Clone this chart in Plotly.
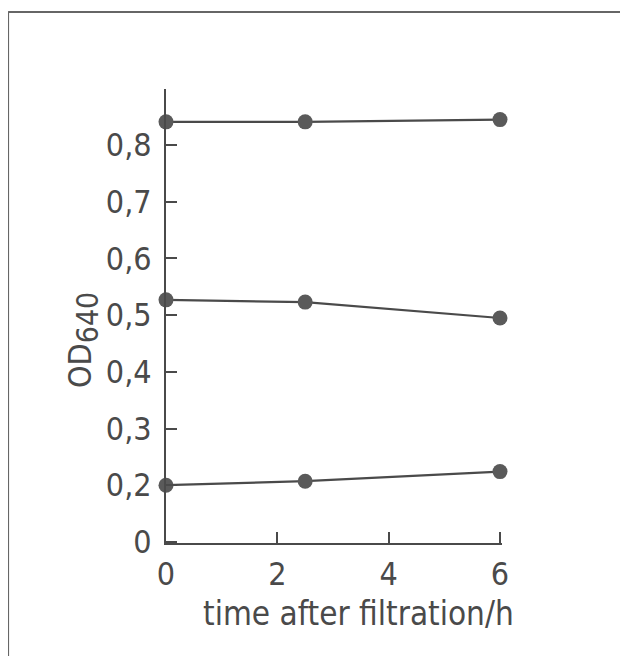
import plotly.graph_objects as go

time_h = [0, 2.5, 6]
od_high = [0.841, 0.841, 0.845]
od_mid = [0.527, 0.523, 0.495]
od_low = [0.200, 0.207, 0.224]

y_tickvals = [0.1, 0.2, 0.3, 0.4, 0.5, 0.6, 0.7, 0.8]
y_ticktext = ["0", "0,2", "0,3", "0,4", "0,5", "0,6", "0,7", "0,8"]
x_tickvals = [0, 2, 4, 6]
x_ticktext = ["0", "2", "4", "6"]

FONT = "DejaVu Sans Condensed, Liberation Sans Narrow, Arial Narrow, sans-serif"
INK = "#4a4a4a"

fig = go.Figure()
for ys in (od_high, od_mid, od_low):
    fig.add_trace(go.Scatter(
        x=time_h, y=ys, mode="lines+markers",
        line=dict(color=INK, width=2.2),
        marker=dict(color="#5a5a5a", size=15),
        cliponaxis=False, showlegend=False, hoverinfo="skip",
    ))

# page body has an 8px margin, so margins are offset by 8px
fig.update_layout(
    width=628, height=656,
    margin=dict(l=158, r=134, t=81, b=121),
    paper_bgcolor="white", plot_bgcolor="white",
    font=dict(family=FONT, color=INK, size=32),
    xaxis=dict(
        range=[0, 6.036], showgrid=False, zeroline=False,
        showline=True, linecolor=INK, linewidth=2,
        tickvals=x_tickvals, ticktext=x_ticktext,
        ticks="inside", ticklen=11, tickwidth=2, tickcolor=INK,
        ticklabelstandoff=2,
        tickfont=dict(family=FONT, size=32, color=INK),
    ),
    yaxis=dict(
        range=[0.098, 0.899], showgrid=False, zeroline=False,
        showline=True, linecolor=INK, linewidth=2,
        tickvals=y_tickvals, ticktext=y_ticktext,
        ticks="inside", ticklen=11, tickwidth=2, tickcolor=INK,
        ticklabelstandoff=6,
        tickfont=dict(family=FONT, size=32, color=INK),
    ),
    annotations=[
        dict(text="time after filtration/h", xref="paper", yref="paper",
             x=0.574, y=-0.156, xanchor="center", yanchor="middle",
             showarrow=False, font=dict(family=FONT, size=33, color=INK)),
        dict(text="OD<sub><span style='font-size:30px'>640</span></sub>",
             xref="paper", yref="paper",
             x=-0.247, y=0.447, xanchor="center", yanchor="middle",
             textangle=-90, showarrow=False,
             font=dict(family=FONT, size=32, color=INK)),
    ],
    shapes=[
        dict(type="line", xref="paper", yref="paper",
             x0=-0.470, x1=1.375, y0=1.1696, y1=1.1696,
             line=dict(color="#666666", width=2)),
        dict(type="line", xref="paper", yref="paper",
             x0=-0.470, x1=-0.470, y0=1.1696, y1=-0.249,
             line=dict(color="#666666", width=2)),
    ],
)

fig.write_html("out.html")
